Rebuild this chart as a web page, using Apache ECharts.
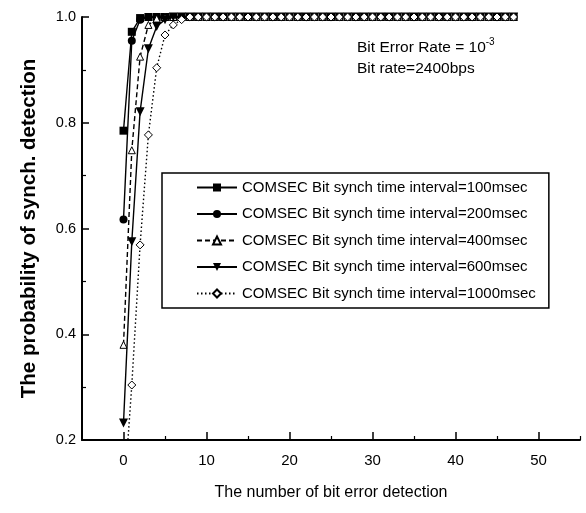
<!DOCTYPE html>
<html>
<head>
<meta charset="utf-8">
<script src="https://cdn.jsdelivr.net/npm/echarts@6/dist/echarts.min.js"></script>
<style>
html,body{margin:0;padding:0;background:#fff;}
#chart{width:586px;height:513px;}
</style>
</head>
<body>
<div id="chart"></div>
<script>
// x: number of bit error detection
const xCounts = [0,1,2,3,4,5,6,7,8,9,10,11,12,13,14,15,16,17,18,19,20,21,22,23,24,25,26,27,28,29,30,31,32,33,34,35,36,37,38,39,40,41,42,43,44,45,46,47];
const ser100 = [0.785,0.972,0.998,1,1,1,1,1,1,1,1,1,1,1,1,1,1,1,1,1,1,1,1,1,1,1,1,1,1,1,1,1,1,1,1,1,1,1,1,1,1,1,1,1,1,1,1,1];
const ser200 = [0.617,0.955,0.995,1,1,1,1,1,1,1,1,1,1,1,1,1,1,1,1,1,1,1,1,1,1,1,1,1,1,1,1,1,1,1,1,1,1,1,1,1,1,1,1,1,1,1,1,1];
const ser400 = [0.38,0.748,0.925,0.985,0.997,1,1,1,1,1,1,1,1,1,1,1,1,1,1,1,1,1,1,1,1,1,1,1,1,1,1,1,1,1,1,1,1,1,1,1,1,1,1,1,1,1,1,1];
const ser600 = [0.232,0.575,0.821,0.94,0.982,0.995,1,1,1,1,1,1,1,1,1,1,1,1,1,1,1,1,1,1,1,1,1,1,1,1,1,1,1,1,1,1,1,1,1,1,1,1,1,1,1,1,1,1];
const ser1000 = [0.08,0.304,0.569,0.777,0.904,0.966,0.985,0.995,1,1,1,1,1,1,1,1,1,1,1,1,1,1,1,1,1,1,1,1,1,1,1,1,1,1,1,1,1,1,1,1,1,1,1,1,1,1,1,1];
const seriesNames = [
  'COMSEC Bit synch time interval=100msec',
  'COMSEC Bit synch time interval=200msec',
  'COMSEC Bit synch time interval=400msec',
  'COMSEC Bit synch time interval=600msec',
  'COMSEC Bit synch time interval=1000msec'
];
const xMajorTicks = [0,10,20,30,40,50];
const xMinorTicks = [5,15,25,35,45,55];
const xTitle = 'The number of bit error detection';
const yTitle = 'The probability of synch. detection';
const noteLine1 = 'Bit Error Rate = 10';
const noteSup = '-3';
const noteLine2 = 'Bit rate=2400bps';

const SANS = "'Liberation Sans',Arial,sans-serif";

function pairs(vals){ return xCounts.map((x,i)=>[x, vals[i]]); }

const styles = [
  {symbol:'rect', size:8, rotate:0, fill:'#000', type:'solid'},
  {symbol:'circle', size:8, rotate:0, fill:'#000', type:'solid'},
  {symbol:'triangle', size:7, rotate:0, fill:'#fff', type:[5,3]},
  {symbol:'triangle', size:9, rotate:180, fill:'#000', type:'solid'},
  {symbol:'diamond', size:8, rotate:0, fill:'#fff', type:[1.5,2.5]}
];
const allData = [ser100, ser200, ser400, ser600, ser1000];

const series = allData.map((vals,i)=>({
  name: seriesNames[i],
  type: 'line',
  xAxisIndex: 0,
  data: pairs(vals),
  symbol: styles[i].symbol,
  symbolSize: styles[i].size,
  symbolRotate: styles[i].rotate,
  showAllSymbol: true,
  clip: true,
  lineStyle: {color:'#000', width:1.4, type: styles[i].type},
  itemStyle: {color: styles[i].fill, borderColor:'#000', borderWidth: styles[i].fill==='#fff'?1:0},
  emphasis: {disabled:true},
  animation: false,
  z: 3 + i
}));

const chart = echarts.init(document.getElementById('chart'), null, {renderer:'canvas'});
chart.setOption({
  backgroundColor: '#fff',
  animation: false,
  grid: {left: 82, right: 6, top: 17, bottom: 73, containLabel: false},
  xAxis: [{
    type: 'value', min: -5, max: 55, interval: 5,
    name: xTitle, nameLocation: 'middle', nameGap: 45,
    nameTextStyle: {fontFamily: SANS, fontSize: 16, color: '#000'},
    axisLine: {show: true, onZero: false, lineStyle: {color: '#000', width: 2}},
    axisTick: {show: true, inside: true, length: 8, customValues: xMajorTicks, lineStyle: {color:'#000', width: 1.5}},
    axisLabel: {customValues: xMajorTicks, margin: 13, fontFamily: SANS, fontSize: 15, color: '#000'},
    splitLine: {show: false}
  },{
    type: 'value', min: -5, max: 55, interval: 5, position: 'bottom',
    axisLine: {show: false},
    axisTick: {show: true, inside: true, length: 4, customValues: xMinorTicks, lineStyle: {color:'#000', width: 1.2}},
    axisLabel: {show: false},
    splitLine: {show: false}
  }],
  yAxis: {
    type: 'value', min: 0.2, max: 1.0, interval: 0.2,
    name: yTitle, nameLocation: 'middle', nameGap: 42, nameRotate: 90,
    nameTextStyle: {fontFamily: SANS, fontWeight: 'bold', fontSize: 20.5, color: '#000'},
    axisLine: {show: true, onZero: false, lineStyle: {color: '#000', width: 2}},
    axisTick: {show: true, inside: true, length: 7, lineStyle: {color:'#000', width: 1.5}},
    minorTick: {show: true, splitNumber: 2, length: 4, lineStyle: {color:'#000', width: 1.2}},
    axisLabel: {margin: 6, fontFamily: SANS, fontSize: 14.5, color: '#000', formatter: v => v.toFixed(1)},
    splitLine: {show: false}
  },
  legend: {
    show: true,
    orient: 'vertical',
    left: 162, top: 173,
    padding: [7, 13, 7, 34],
    itemGap: 11.5,
    itemWidth: 40, itemHeight: 10,
    borderColor: '#000', borderWidth: 1.5,
    backgroundColor: '#fff',
    selectedMode: false,
    textStyle: {fontFamily: SANS, fontSize: 15, color: '#000'},
    data: seriesNames
  },
  graphic: [{
    type: 'text', left: 357, top: 37, z: 100,
    style: {
      text: '{a|' + noteLine1 + '}{s|' + noteSup + '}\n{a|' + noteLine2 + '}',
      rich: {
        a: {fontFamily: SANS, fontSize: 15.5, fill: '#000', lineHeight: 21},
        s: {fontFamily: SANS, fontSize: 10, fill: '#000', verticalAlign: 'top', lineHeight: 21, padding:[0,0,10,0]}
      }
    }
  }],
  series: series
});
</script>
</body>
</html>
